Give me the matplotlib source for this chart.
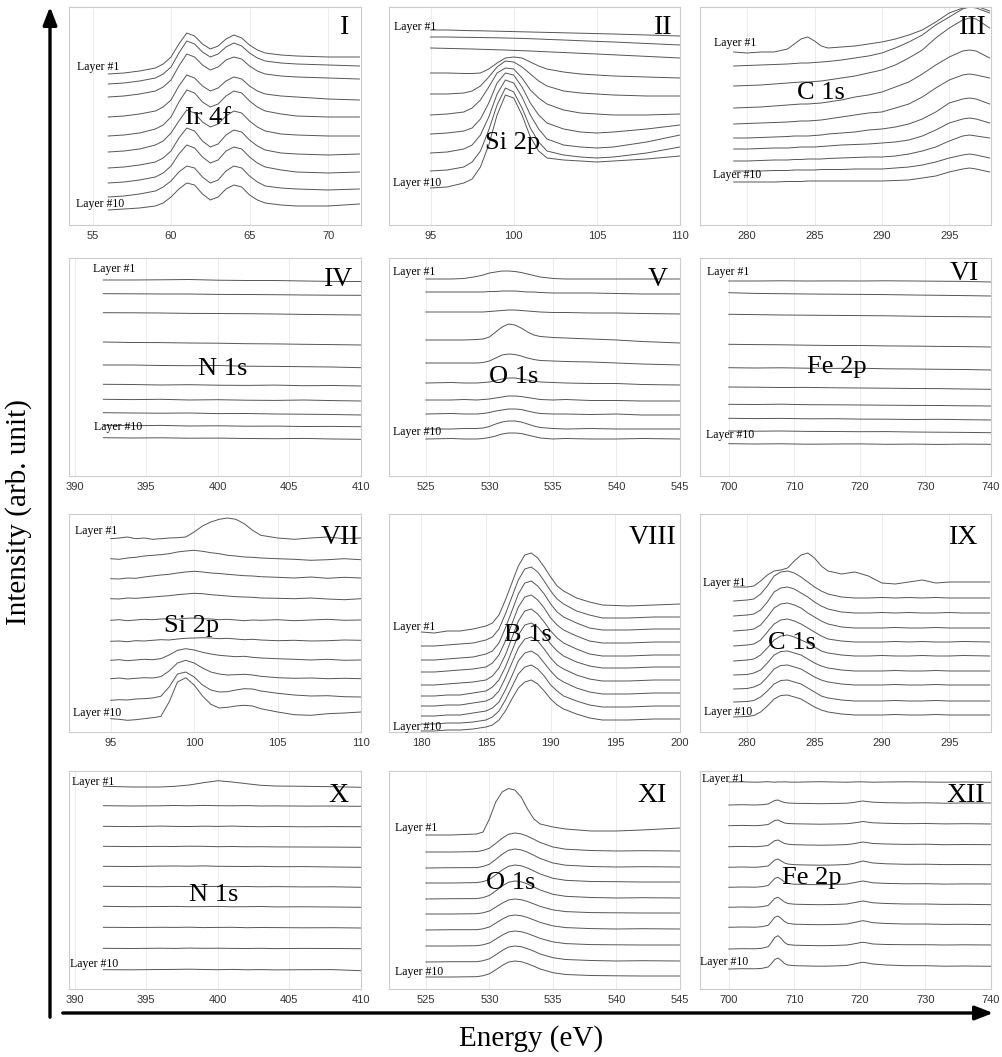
import matplotlib
matplotlib.use("Agg")
import matplotlib.pyplot as plt
from matplotlib.patches import FancyArrowPatch

# ---- data: energy grids (eV) and stacked intensities (arb. unit), layer 1 first ----

e_ir4f = [56, 57, 58, 59, 59.5, 60, 60.5, 61, 61.5, 62, 62.5, 63, 63.5, 64, 64.5, 65, 65.5, 66, 67, 68, 70, 72]
ir4f = [
    [151, 152, 154, 157, 161, 168, 181, 192, 189, 181, 176, 179, 186, 190, 187, 180, 175, 172, 170, 169, 168, 168],
    [141, 142, 144, 147, 151, 158, 172, 184, 181, 173, 168, 171, 178, 182, 179, 172, 167, 164, 162, 161, 160, 159],
    [128, 129, 131, 134, 138, 145, 159, 171, 168, 160, 155, 158, 165, 168, 166, 159, 154, 151, 149, 148, 147, 146],
    [108, 109, 111, 114, 118, 125, 139, 150, 147, 139, 134, 137, 144, 148, 146, 139, 134, 131, 129, 128, 126, 125],
    [89, 90, 92, 96, 100, 108, 123, 135, 132, 123, 118, 121, 129, 134, 132, 124, 118, 114, 111, 109, 108, 108],
    [73, 74, 76, 80, 84, 92, 104, 115, 112, 103, 98, 101, 109, 114, 112, 104, 98, 94, 91, 90, 89, 89],
    [57, 58, 60, 63, 67, 74, 87, 97, 94, 84, 78, 81, 90, 95, 93, 85, 79, 75, 72, 71, 70, 71],
    [42, 43, 45, 48, 52, 59, 71, 80, 77, 68, 62, 65, 74, 78, 76, 68, 62, 58, 55, 53, 52, 53],
    [28, 29, 31, 34, 38, 44, 53, 59, 57, 48, 42, 45, 54, 59, 57, 49, 43, 39, 37, 36, 35, 36],
    [15, 16, 17, 19, 22, 28, 36, 42, 40, 31, 25, 28, 36, 40, 38, 30, 25, 22, 20, 19, 19, 21],
]

e_si2p_a = [95, 96, 97, 97.5, 98, 98.5, 99, 99.5, 100, 100.5, 101, 101.5, 102, 103, 104, 105, 106, 108, 110]
si2p_a = [
    [195, 195, 194.5, 194.3, 194.2, 194, 193.8, 193.6, 193.4, 193.2, 193, 192.8, 192.6, 192.2, 191.8, 191.4, 191, 190, 189],
    [188, 188, 187.7, 187.6, 187.5, 187.3, 187.2, 187, 186.8, 186.6, 186.3, 186, 185.6, 185, 184.3, 183.6, 183, 181.5, 180],
    [177, 176.6, 176.2, 176, 175.7, 175.5, 175.2, 175, 174.6, 174.3, 174, 173.6, 173.2, 172.5, 171.7, 171, 170.2, 168.6, 167],
    [152, 152, 151.5, 151.5, 152, 156, 162, 167, 168, 167, 163, 159, 156, 153, 151, 150, 149, 148, 147],
    [131, 131, 132, 134, 139, 148, 158, 164, 163, 158, 151, 144, 139, 134, 132, 131, 130, 129, 129],
    [110, 111, 113, 117, 125, 138, 152, 157, 156, 147, 135, 127, 121, 115, 112, 111, 110, 110, 111],
    [91, 92, 94, 97, 106, 122, 142, 152, 150, 138, 122, 110, 102, 96, 93, 92, 93, 96, 100],
    [72, 73, 76, 80, 90, 108, 131, 145, 142, 128, 110, 96, 86, 80, 78, 77, 78, 83, 90],
    [54, 55, 58, 63, 74, 95, 120, 137, 133, 117, 97, 83, 74, 70, 68, 67, 68, 72, 78],
    [37, 38, 42, 46, 58, 80, 110, 130, 127, 110, 88, 74, 67, 65, 64, 63, 64, 66, 69],
]

e_c1s_a = [279, 280, 281, 282, 283, 283.5, 284, 284.5, 285, 285.5, 286, 287, 288, 289, 290, 291, 292, 293, 294, 295, 296, 296.5, 297, 298]
c1s_a = [
    [173, 172, 173, 173, 176, 181, 186, 188, 184, 179, 177, 178, 179, 181, 183, 186, 190, 195, 203, 212, 217, 219, 219, 214],
    [159, 159.5, 160, 160.5, 161, 161.5, 162, 162, 162.5, 163, 163.5, 165, 167, 169, 172, 177, 183, 190, 200, 208, 216, 218, 217, 212],
    [139, 139.5, 140, 141, 142, 142.5, 143, 143, 143.5, 144, 145, 147, 149, 152, 155, 160, 167, 175, 187, 197, 205, 207, 206, 197],
    [117, 117.5, 118, 119, 120, 120.5, 121, 121, 121.5, 122, 123, 125, 128, 130, 133, 138, 143, 151, 160, 168, 174, 175, 174, 167],
    [101, 101.5, 102, 102.5, 103, 103.5, 104, 104, 104.5, 105, 106, 108, 110, 112, 113, 117, 121, 128, 137, 145, 150, 151, 150, 147],
    [87, 87, 87.5, 88, 88.5, 89, 89, 89, 89.5, 90, 91, 92, 93, 95, 96, 98, 101, 106, 113, 122, 126, 127, 126, 121],
    [76, 76, 76.5, 77, 77, 77.5, 78, 78, 78, 78.5, 79, 80, 80.5, 81, 82, 83, 85, 89, 95, 102, 106, 107, 106, 102],
    [64, 64, 64.5, 65, 65, 65.5, 65.5, 66, 66, 66, 66.5, 67, 67.5, 68, 68, 69, 71, 74, 78, 84, 89, 90, 89, 87],
    [54, 54, 54, 54.5, 54.5, 55, 55, 55, 55, 55.5, 55.5, 55.5, 56, 56, 56, 57, 58, 60, 63, 67, 70, 71, 70, 67],
    [43, 43, 43, 43, 43.5, 43.5, 43.5, 44, 44, 44, 44, 44, 44, 44, 44, 44.5, 45, 47, 49, 53, 56, 57, 56, 53],
]

e_n1s_a = [392, 394, 396, 398, 400, 402, 404, 406, 408, 410]
n1s_a = [
    [196, 196, 196.2, 196.5, 195.8, 195.5, 195.5, 195, 194.6, 194.5],
    [182.3, 182.2, 182, 182, 181.6, 181.5, 181.3, 181, 180.8, 180.7],
    [163.3, 163.2, 163, 162.6, 162.5, 162.3, 162, 161.6, 161.3, 161],
    [134, 133.5, 133.4, 133, 132.8, 132.3, 132.1, 131.7, 131.4, 131],
    [111, 111, 110.5, 110.3, 110.5, 109.8, 109.6, 109.3, 109, 108.3],
    [91.7, 91.5, 91, 91.3, 90.8, 90.6, 90.9, 90.3, 90.5, 90],
    [76.7, 76.4, 76.7, 76, 76.3, 75.8, 75.6, 76, 75.4, 75],
    [63.3, 63, 62.8, 63, 62.4, 62.5, 62, 61.8, 61.5, 61],
    [50.7, 50.3, 50.6, 50, 50.2, 49.8, 49.9, 49.5, 49.6, 49.3],
    [38.3, 38, 38.2, 37.8, 37.9, 37.5, 37.3, 37.6, 37, 36.7],
]

e_o1s_a = [525, 527, 528, 529, 529.5, 530, 530.5, 531, 531.5, 532, 532.5, 533, 533.5, 534, 535, 536, 538, 540, 542, 545]
o1s_a = [
    [197, 197, 197.5, 199.5, 201, 203, 204, 205, 205, 204.5, 203.5, 202, 200.5, 199, 197.5, 197, 197, 197, 197, 197],
    [184, 184, 184, 184, 184, 184.5, 184.5, 185, 185, 185, 184.5, 184, 184, 183.5, 183, 183, 183, 182.5, 182, 182],
    [164, 164, 164, 164, 164, 164.5, 165, 165.5, 166, 166, 165.5, 165, 164.5, 164, 163.5, 163.5, 163, 163, 162.5, 162],
    [136, 136, 136, 136.5, 137, 139, 144, 149, 152, 151, 148, 144, 141, 139.5, 138.5, 138, 137, 136, 134.5, 133],
    [113, 113, 113, 113, 113.5, 115, 118, 121, 122, 121.5, 120, 118, 116.5, 115.5, 115, 114.5, 114, 113, 112, 111],
    [93, 93.5, 93, 93, 93.5, 94, 95.5, 97, 98, 98, 97, 96, 95, 94, 93.5, 93, 92.5, 92.5, 91.5, 91],
    [76, 76, 76.5, 76, 76.5, 77, 78, 79, 80, 80, 79.5, 78.5, 77.5, 76.5, 76, 76.5, 75.5, 75.5, 75, 75],
    [62, 62.5, 62, 62, 62.5, 63.5, 65, 66, 67, 67, 66.5, 65, 63.5, 62.5, 62, 62, 61.5, 62, 61, 61],
    [47, 47, 47.5, 47.5, 48, 49.5, 52, 54, 55, 55, 54, 52, 50, 48.5, 47.5, 47, 47.5, 47, 47, 47],
    [37, 37.5, 37, 37, 37.5, 38.5, 40, 42, 43, 43, 42.5, 41, 39.5, 38, 37, 37.5, 37, 37, 37.5, 37],
]

e_fe2p_a = [700, 704, 708, 712, 716, 720, 724, 728, 732, 736, 740]
fe2p_a = [
    [195, 195, 195.2, 195, 195.1, 195, 195.2, 195, 194.8, 194.6, 194],
    [183.3, 182.6, 182.3, 182, 181.8, 181.6, 181.4, 181, 180.7, 180.4, 180],
    [161.7, 161.4, 161, 160.8, 160.6, 160.4, 160.2, 159.8, 159.5, 159.3, 159],
    [131.7, 131.4, 131.2, 130.8, 130.5, 130.5, 130.1, 129.9, 129.6, 129.4, 129],
    [108.3, 108, 108.2, 107.8, 107.6, 107.8, 107.2, 107, 106.7, 106.5, 106],
    [89, 88.8, 88.5, 88.6, 88.2, 88, 87.8, 87.5, 87.4, 87, 86.7],
    [71.7, 71.5, 71.8, 71.3, 71.2, 71, 70.8, 70.6, 70.5, 70.2, 70],
    [57.7, 57.4, 57.6, 57.2, 57.3, 56.9, 56.8, 56.5, 56.7, 56.3, 56],
    [45, 44.8, 45, 44.6, 44.5, 44.3, 44.4, 44, 43.8, 43.6, 43.3],
    [32.3, 32, 32.2, 31.8, 32, 32.1, 31.7, 31.9, 31.6, 31.9, 31.7],
]

e_si2p_b = [95, 95.5, 96, 96.5, 97, 97.5, 98, 98.5, 99, 99.5, 100, 100.5, 101, 101.5, 102, 102.5, 103, 103.5, 104, 105, 106, 107, 108, 109, 110]
si2p_b = [
    [193.3, 194, 195, 193.3, 194, 192.7, 193.3, 194, 194.3, 195, 200, 206, 210, 212.7, 214, 212.7, 208.3, 201.7, 196.7, 194, 192.7, 194, 195, 193.3, 194],
    [173.3, 172.7, 174, 174.7, 176, 176.7, 177.3, 178.3, 180, 181, 181.7, 180.7, 179.3, 178.3, 176.7, 176, 175, 174.7, 174, 173.3, 172.7, 171.7, 172.3, 173.3, 172.3],
    [153.3, 153, 154, 153.7, 155, 156, 157, 157.7, 159, 160, 160.7, 160, 159, 158.5, 157.7, 157, 156.3, 156, 155.3, 154.7, 154, 155, 153.7, 154.7, 154],
    [133.3, 133, 134, 133.7, 134.3, 135, 135.7, 136.3, 137.3, 138, 138.7, 138.3, 137.3, 136.7, 136, 135.3, 135, 134.7, 134, 133.7, 133.3, 134, 133, 132.3, 133.3],
    [111.7, 112.3, 111.3, 112, 112.7, 112.3, 113, 113.3, 112.7, 113.7, 114, 113.3, 113, 112.3, 112.7, 112, 111.3, 112, 111.7, 112.3, 111.3, 112, 112.7, 111.7, 112],
    [90.7, 91, 90.3, 91.3, 91, 91.7, 92.3, 92, 93, 93.7, 94, 94.3, 94, 93.3, 93.7, 93, 92.3, 92.7, 92, 91.3, 91.7, 91, 91.3, 92, 91.7],
    [71.7, 72.3, 71.3, 72, 72.7, 72.3, 73.3, 77, 81.7, 83.3, 82, 79.7, 78, 76.7, 76, 75.3, 75.7, 74.7, 74, 73.3, 72.7, 72, 72.7, 71.7, 72],
    [53.3, 54, 53, 53.7, 54.3, 54, 55.3, 61, 69, 71.7, 69, 64, 60, 58, 57, 57.3, 57.7, 57, 55.7, 54.3, 53.7, 54, 53.3, 53.7, 53.3],
    [31.7, 32.3, 32, 33, 33.3, 34, 35.7, 45, 58, 60, 55, 47, 42, 40, 40.3, 42, 43.3, 43, 41, 38.7, 37, 36, 36.3, 35.3, 35],
    [13.3, 12.7, 11.7, 12.3, 13.3, 14.3, 15.5, 30, 50, 54.3, 47, 36, 27.7, 24, 24.7, 26, 26.7, 26, 23.3, 20, 17.3, 16.7, 18.3, 19, 20],
]

e_b1s = [180, 181, 182, 183, 184, 185, 185.5, 186, 186.5, 187, 187.5, 188, 188.5, 189, 189.5, 190, 190.5, 191, 192, 193, 194, 196, 198, 200]
b1s = [
    [100, 99, 101, 101, 103, 106, 109, 117, 132, 149, 166, 177, 179, 174, 165, 155, 146, 141, 134, 130, 127, 126, 127, 128],
    [86, 86, 87, 88, 89, 92, 95, 103, 118, 135, 152, 163, 165, 160, 151, 141, 133, 128, 121, 117, 114, 114, 115, 115],
    [72, 72, 73, 74, 75, 78, 81, 89, 104, 121, 138, 149, 151, 146, 138, 128, 120, 115, 109, 104, 102, 102, 103, 103],
    [60, 60, 61, 62, 63, 65, 69, 77, 91, 108, 125, 135, 137, 132, 124, 114, 107, 102, 96, 91, 89, 89, 90, 90],
    [47, 47, 48, 49, 50, 52, 56, 64, 77, 94, 111, 121, 123, 118, 110, 101, 94, 89, 83, 78, 76, 76, 77, 77],
    [36, 36, 37, 37, 39, 41, 45, 52, 65, 81, 97, 107, 109, 105, 97, 88, 81, 76, 70, 66, 64, 64, 65, 65],
    [26, 26, 27, 27, 29, 31, 34, 41, 54, 69, 84, 93, 95, 91, 83, 74, 67, 63, 57, 53, 51, 51, 52, 52],
    [16, 16, 17, 17, 19, 21, 24, 30, 42, 56, 71, 79, 81, 77, 69, 61, 54, 50, 44, 40, 38, 38, 39, 39],
    [8, 8, 9, 9, 10, 12, 15, 21, 32, 45, 58, 65, 67, 63, 56, 47, 41, 36, 31, 27, 25, 25, 26, 26],
    [1, 1, 2, 2, 3, 5, 7, 12, 21, 33, 44, 50, 52, 48, 41, 33, 27, 23, 18, 14, 12, 12, 13, 13],
]

e_c1s_b = [279, 280, 280.5, 281, 281.5, 282, 282.5, 283, 283.5, 284, 284.5, 285, 285.5, 286, 287, 288, 289, 290, 291, 292, 293, 294, 295, 296, 298]
c1s_b = [
    [145, 145, 146, 151, 157, 161, 162, 164, 171, 177, 179, 174, 166, 161, 158, 160, 156, 149, 148, 150, 152, 149, 150, 150, 150],
    [131, 132, 133, 138, 146, 156, 160, 161, 159, 155, 150, 145, 141, 138, 135, 134, 134, 134.5, 134, 134.5, 134, 134.5, 134, 134, 134],
    [116, 117, 118, 122, 130, 140, 144, 145, 143, 139, 135, 130, 126, 123, 120, 119, 119, 119.5, 119, 119.5, 119, 119, 119.5, 119, 119],
    [101, 102, 103, 107, 115, 124, 128, 129, 127, 124, 119, 115, 111, 108, 105, 104, 104, 104, 104.5, 104, 104, 104.5, 104, 104, 104],
    [86, 87, 88, 92, 100, 108, 112, 113, 111, 108, 104, 100, 96, 93, 91, 90, 90, 90, 90.5, 90, 90.5, 90, 90, 90.5, 90],
    [71, 72, 73, 77, 84, 92, 96, 97, 95, 92, 89, 85, 81, 79, 77, 76, 76, 76.5, 76, 76, 76.5, 76, 76, 76.5, 76],
    [57, 57.5, 59, 62, 69, 77, 80.5, 81, 79, 77, 73, 69, 66, 64, 62, 61, 61, 61, 61.5, 61, 61, 61.5, 61, 61, 61],
    [43, 43.5, 45, 48, 55, 63, 66.5, 67, 65, 63, 59, 55, 52, 50, 48, 47, 47, 47, 47.5, 47, 47, 47.5, 47, 47, 47],
    [30, 30.5, 31.5, 35, 41, 48, 51.5, 52, 50, 48, 44, 40, 36, 34, 32, 31, 31, 31, 31.5, 31, 31, 31.5, 31, 31, 31],
    [15, 15.5, 16.5, 20, 26, 33, 36.5, 37, 35, 33, 29, 25, 22, 20, 18, 17, 17, 17, 17.5, 17, 17, 17.5, 17, 17, 17],
]

e_n1s_b = [392, 394, 396, 397, 398, 399, 400, 401, 402, 403, 404, 406, 408, 410]
n1s_b = [
    [202.7, 202, 202, 202.7, 204, 206.3, 208.3, 207, 205.3, 203.7, 203, 202.7, 202.3, 201.7],
    [183.3, 183, 183.2, 183.5, 183.2, 183.6, 183.3, 183.2, 183.4, 183, 183.1, 182.9, 183, 182.7],
    [162.7, 162.4, 162.9, 162.6, 162.5, 162.8, 162.6, 162.9, 162.5, 162.3, 162.5, 162.2, 162.4, 162.3],
    [142.7, 142.4, 142.6, 142.5, 142.8, 142.7, 142.3, 142.5, 142.2, 142.3, 142.1, 142, 141.9, 141.7],
    [122.7, 122.5, 122.9, 123, 122.8, 123.1, 122.7, 122.6, 122.5, 122.7, 122.3, 122.4, 122, 121.7],
    [102.7, 102.5, 102.3, 102.6, 102.4, 102.5, 102.6, 102.3, 102.5, 102.2, 102.4, 102.1, 102.2, 101.7],
    [82.7, 82.3, 82.5, 82.6, 82.3, 82.4, 82.6, 82.2, 82.3, 82.5, 82.1, 82.2, 82, 81.7],
    [61.7, 61.5, 61.7, 61.6, 61.8, 61.4, 61.6, 61.7, 61.3, 61.5, 61.4, 61.2, 61.3, 61],
    [40.7, 40.5, 40.8, 40.6, 40.9, 40.7, 40.8, 40.6, 40.5, 40.7, 40.4, 40.6, 40.5, 40.3],
    [19.3, 19.2, 19.5, 19.6, 19.8, 19.5, 19.3, 19.6, 19.2, 19.4, 19.1, 19.3, 19.4, 18.3],
]

e_o1s_b = [525, 527, 529, 529.5, 530, 530.5, 531, 531.5, 532, 532.5, 533, 533.5, 534, 535, 536, 538, 540, 542, 545]
o1s_b = [
    [154, 154, 155, 157, 170, 187, 197, 200.5, 199, 192, 180, 170, 165, 162, 160, 158, 158, 159, 161],
    [137, 137, 137.4, 138.5, 140.8, 145.6, 150.7, 154.7, 156, 155.1, 152.8, 149.7, 146.5, 142, 139.8, 138.5, 138, 138.3, 138],
    [121, 121.3, 121.4, 122.5, 124.8, 129.6, 134.7, 138.7, 140, 139.1, 136.8, 133.7, 130.5, 126, 123.8, 122.5, 122, 122.3, 122],
    [106, 106, 106.4, 107.4, 109.6, 114.1, 119, 122.7, 124, 123.2, 121, 118, 115, 110.7, 108.7, 107.5, 107.3, 107, 107],
    [90, 90.3, 90.4, 91.4, 93.6, 98.1, 103, 106.7, 108, 107.2, 105, 102, 99, 94.7, 92.7, 91.5, 91, 91.3, 91],
    [75, 75, 75.3, 76.2, 78, 81.8, 85.8, 89, 90, 89.3, 87.5, 85.1, 82.6, 79.1, 77.4, 76.4, 76.2, 76, 76],
    [59, 59.3, 59.3, 60.2, 62, 65.8, 69.8, 73, 74, 73.3, 71.5, 69.1, 66.6, 63.1, 61.4, 60.4, 60, 60.3, 60],
    [43, 43, 43.3, 44.2, 46, 49.8, 53.8, 57, 58, 57.3, 55.5, 53.1, 50.6, 47.1, 45.4, 44.4, 44.2, 44, 44],
    [27, 27.3, 27.3, 28.3, 30.2, 34.2, 38.5, 41.9, 43, 42.3, 40.3, 37.8, 35, 31.3, 29.5, 28.5, 28, 28.3, 28],
    [12, 12, 12.3, 13.3, 15.2, 19.2, 23.5, 26.9, 28, 27.3, 25.3, 22.8, 20, 16.3, 14.5, 13.5, 13.2, 13, 13],
]

e_fe2p_b = [700, 702, 704, 705, 706, 706.5, 707, 707.5, 708, 708.5, 709, 710, 712, 714, 716, 718, 719, 720, 720.5, 721, 722, 724, 727, 730, 733, 736, 740]
fe2p_b = [
    [207, 207.2, 206.8, 207, 207.3, 207, 206.8, 207.1, 207, 207.2, 207, 206.8, 207.1, 207.3, 207, 206.8, 207, 207.2, 207.1, 207, 206.8, 207, 207.2, 207, 206.8, 207, 206.7],
    [184, 184.3, 184, 184.3, 185, 186.8, 188.5, 189, 187.5, 186.5, 186, 185.7, 185.5, 185.3, 185.5, 185.8, 186.5, 187.6, 188, 187.5, 186.8, 186.3, 186, 186.2, 185.8, 186, 186],
    [163.3, 163.6, 163.3, 163.7, 164.5, 166.5, 168.5, 169, 167.5, 166, 165.5, 165.2, 165, 164.8, 165, 165.3, 166, 167, 167.5, 167, 166.2, 165.7, 165.3, 165.5, 165.1, 165.3, 165],
    [142.3, 142.6, 142.3, 142.7, 143.5, 146, 148.3, 149, 147.3, 145.5, 144.8, 144.3, 144, 143.8, 144, 144.4, 145.2, 146.5, 147, 146.5, 145.5, 145, 144.6, 144.8, 144.3, 144.5, 144.3],
    [121.7, 122, 121.7, 122.2, 123, 126, 129, 130, 128, 126, 125, 124.3, 124, 123.8, 124, 124.5, 125.5, 127.3, 128, 127.3, 126, 125.2, 124.7, 124.8, 124.4, 124.5, 124.3],
    [101.7, 102, 101.8, 102.3, 103.5, 107, 110.5, 111.7, 109.5, 107, 105.5, 104.8, 104.5, 104.3, 104.5, 105, 106.2, 107.5, 108, 107.4, 106.2, 105.6, 105.2, 105.3, 104.9, 105.1, 105],
    [81.7, 82, 81.8, 82.3, 83.5, 87, 90.5, 91.7, 89.5, 87, 85.5, 84.8, 84.5, 84.3, 84.5, 85, 86.2, 87.5, 88, 87.4, 86.2, 85.5, 85, 85, 84.6, 84.7, 84.3],
    [61.7, 62, 61.8, 62.3, 63.7, 67.5, 71.7, 73, 70.5, 67.5, 65.7, 64.8, 64.5, 64.3, 64.5, 65, 66.3, 67.8, 68.3, 67.7, 66.3, 65.5, 65, 65, 64.6, 64.7, 64.3],
    [40, 40.3, 40.2, 40.7, 42.3, 46.5, 51.5, 53.3, 50.5, 46.5, 44.5, 43.8, 43.5, 43.3, 43.5, 44, 45, 46.3, 46.7, 46.2, 45, 44.5, 44.3, 44.3, 44, 44.2, 44],
    [20, 20.3, 20.2, 20.6, 22, 25.5, 29.5, 31, 28.5, 25.5, 24, 23.3, 23, 22.8, 23, 23.5, 24.8, 26.3, 26.7, 26.2, 25, 24, 23.3, 23.3, 22.8, 23, 22.7],
]

numerals = ["I", "II", "III", "IV", "V", "VI", "VII", "VIII", "IX", "X", "XI", "XII"]
elements = ["Ir 4f", "Si 2p", "C 1s", "N 1s", "O 1s", "Fe 2p", "Si 2p", "B 1s", "C 1s", "N 1s", "O 1s", "Fe 2p"]
energies = [e_ir4f, e_si2p_a, e_c1s_a, e_n1s_a, e_o1s_a, e_fe2p_a,
            e_si2p_b, e_b1s, e_c1s_b, e_n1s_b, e_o1s_b, e_fe2p_b]
spectra = [ir4f, si2p_a, c1s_a, n1s_a, o1s_a, fe2p_a,
           si2p_b, b1s, c1s_b, n1s_b, o1s_b, fe2p_b]
xticks = [[55, 60, 65, 70], [95, 100, 105, 110], [280, 285, 290, 295],
          [390, 395, 400, 405, 410], [525, 530, 535, 540, 545], [700, 710, 720, 730, 740],
          [95, 100, 105, 110], [180, 185, 190, 195, 200], [280, 285, 290, 295],
          [390, 395, 400, 405, 410], [525, 530, 535, 540, 545], [700, 710, 720, 730, 740]]
xlims = [(53.5, 72.1), (92.5, 110), (276.5, 298.1), (389.6, 410), (522.1, 545), (695.6, 740),
         (92.5, 110), (177.5, 200), (276.5, 298.1), (389.6, 410), (522.1, 545), (695.6, 740)]

# ---- layout (pixel positions on the 1003 x 1057 canvas) ----
W, H = 1003, 1057
cols = [(69, 361), (389, 680), (700, 991)]
rows = [(7, 225), (258, 476), (514, 732), (771, 989)]

# (x, y) of panel numeral, element label, "Layer #1", "Layer #10"
numeral_pos = [(345, 28), (663, 28), (973, 27), (339, 280), (658, 280), (964, 274),
               (340, 537), (653, 538), (964, 537), (338, 796), (652, 796), (966, 796)]
element_pos = [(208, 118), (513, 143), (821, 93), (223, 369), (514, 377), (837, 367),
               (192, 626), (528, 635), (792, 643), (214, 895), (511, 883), (812, 878)]
first_pos = [(77, 67), (394, 27), (714, 43), (93, 269), (393, 272), (707, 272),
             (75, 531), (393, 627), (703, 583), (72, 782), (395, 828), (702, 779)]
last_pos = [(76, 204), (393, 183), (713, 175), (94, 427), (393, 432), (706, 435),
            (73, 713), (393, 727), (704, 712), (70, 964), (395, 972), (700, 962)]


def fx(px):
    return px / W


def fy(py):
    return 1 - py / H


serif = "Liberation Serif"
fig = plt.figure(figsize=(W / 100, H / 100), dpi=100)

for i in range(12):
    (x0, x1) = cols[i % 3]
    (y0, y1) = rows[i // 3]
    ax = fig.add_axes([fx(x0), fy(y1), (x1 - x0) / W, (y1 - y0) / H])
    for layer in spectra[i]:
        ax.plot(energies[i], layer, color="#555555", lw=0.7)
    ax.set_xlim(*xlims[i])
    ax.set_ylim(0, 218)
    ax.set_xticks(xticks[i])
    ax.set_yticks([])
    ax.grid(axis="x", color="#e9e9e9", lw=0.6)
    ax.set_axisbelow(True)
    ax.tick_params(axis="x", length=0, pad=4, labelsize=8, labelcolor="#333333")
    for lab in ax.get_xticklabels():
        lab.set_family("Liberation Sans")
    for s in ax.spines.values():
        s.set_color("#cccccc")
        s.set_linewidth(0.8)

    fig.text(fx(numeral_pos[i][0]), fy(numeral_pos[i][1]), numerals[i],
             family=serif, fontsize=20, ha="center", va="center")
    fig.text(fx(element_pos[i][0]), fy(element_pos[i][1]), elements[i],
             family=serif, fontsize=19, ha="center", va="center")
    fig.text(fx(first_pos[i][0]), fy(first_pos[i][1]), "Layer #1",
             family=serif, fontsize=8.5, ha="left", va="center")
    fig.text(fx(last_pos[i][0]), fy(last_pos[i][1]), "Layer #10",
             family=serif, fontsize=8.5, ha="left", va="center")

# axis arrows
fig.add_artist(FancyArrowPatch((fx(50), fy(1020)), (fx(50), fy(4)), transform=fig.transFigure,
                               arrowstyle="-|>,head_length=0.9,head_width=0.35",
                               mutation_scale=12, lw=2.4, color="black"))
fig.add_artist(FancyArrowPatch((fx(60), fy(1013)), (fx(996), fy(1013)), transform=fig.transFigure,
                               arrowstyle="-|>,head_length=0.9,head_width=0.35",
                               mutation_scale=12, lw=2.4, color="black"))

fig.text(fx(531), fy(1039), "Energy (eV)", family=serif, fontsize=21, ha="center", va="center")
fig.text(fx(19), fy(512), "Intensity (arb. unit)", family=serif, fontsize=21,
         ha="center", va="center", rotation=90)

fig.savefig("out.png", dpi=100)
